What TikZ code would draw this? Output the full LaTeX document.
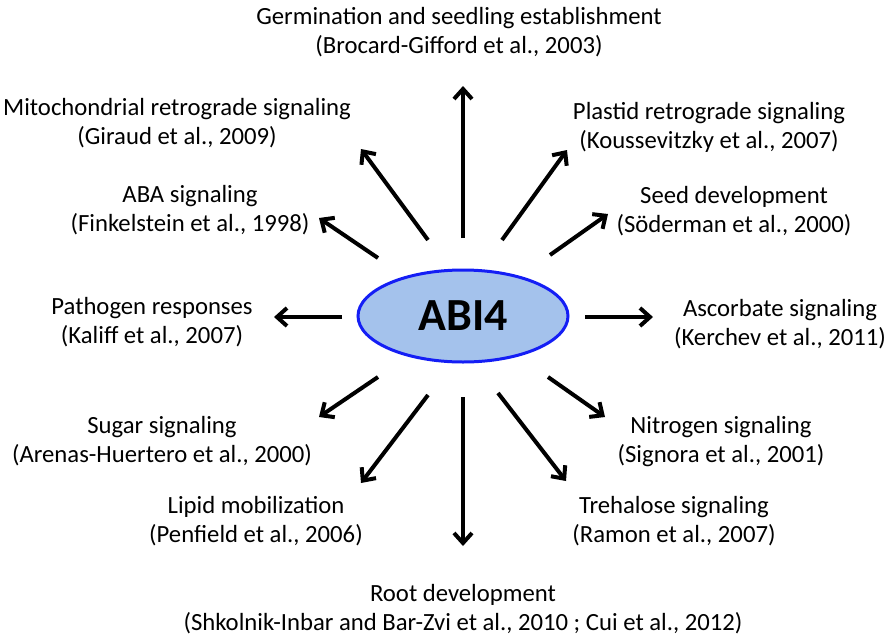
\documentclass[tikz,border=0pt]{standalone}
\usepackage{fontspec}
\setmainfont{Carlito}
\usetikzlibrary{shapes.geometric,arrows.meta}

\definecolor{abifill}{RGB}{164,194,236}
\definecolor{abiline}{RGB}{20,30,245}

\begin{document}
\begin{tikzpicture}
[x=1pt, y=-1pt,
 every node/.style={align=center, font=\fontsize{24.7}{29}\selectfont},
 ray/.style={line width=4pt, -{Straight Barb[length=10pt, width=18pt]}}]
\useasboundingbox (0,0) rectangle (892,638);

\node[ellipse, draw=abiline, fill=abifill, line width=3pt,
      minimum width=210pt, minimum height=92pt,
      font=\fontsize{46}{50}\bfseries] (abi) at (463,316) {ABI4};

\node (germ) at (459,32) {Germination and seedling establishment\\(Brocard-Gifford et al., 2003)};
\node (mito) at (177,123) {Mitochondrial retrograde signaling\\(Giraud et al., 2009)};
\node (plastid) at (709,127) {Plastid retrograde signaling\\(Koussevitzky et al., 2007)};
\node (aba) at (190,210) {ABA signaling\\(Finkelstein et al., 1998)};
\node (seed) at (734,211) {Seed development\\(Söderman et al., 2000)};
\node (path) at (152,322) {Pathogen responses\\(Kaliff et al., 2007)};
\node (asc) at (780,324) {Ascorbate signaling\\(Kerchev et al., 2011)};
\node (sugar) at (162,441) {Sugar signaling\\(Arenas-Huertero et al., 2000)};
\node (nitro) at (721,442) {Nitrogen signaling\\(Signora et al., 2001)};
\node (lipid) at (256,521) {Lipid mobilization\\(Penfield et al., 2006)};
\node (treh) at (674,521) {Trehalose signaling\\(Ramon et al., 2007)};
\node (root) at (463,609) {Root development\\(Shkolnik-Inbar and Bar-Zvi et al., 2010 ; Cui et al., 2012)};

% arrow ends
\coordinate (germ-a) at (463,238);  \coordinate (germ-b) at (463,86);
\coordinate (mito-a) at (428,240);  \coordinate (mito-b) at (361,149);
\coordinate (aba-a) at (378,258);   \coordinate (aba-b) at (319,218);
\coordinate (plastid-a) at (502,240); \coordinate (plastid-b) at (567,150);
\coordinate (seed-a) at (550,255);  \coordinate (seed-b) at (608,214);
\coordinate (path-a) at (342,317);  \coordinate (path-b) at (274,317);
\coordinate (asc-a) at (585,317);   \coordinate (asc-b) at (653,317);
\coordinate (sugar-a) at (378,377); \coordinate (sugar-b) at (319,417);
\coordinate (lipid-a) at (428,395); \coordinate (lipid-b) at (361,483);
\coordinate (root-a) at (463,397);  \coordinate (root-b) at (463,546);
\coordinate (treh-a) at (498,393);  \coordinate (treh-b) at (566,481);
\coordinate (nitro-a) at (548,377); \coordinate (nitro-b) at (605,417);

\foreach \to in {germ,mito,aba,plastid,seed,path,asc,sugar,lipid,root,treh,nitro}
	\draw[ray] (\to-a) -- (\to-b);

\end{tikzpicture}
\end{document}
